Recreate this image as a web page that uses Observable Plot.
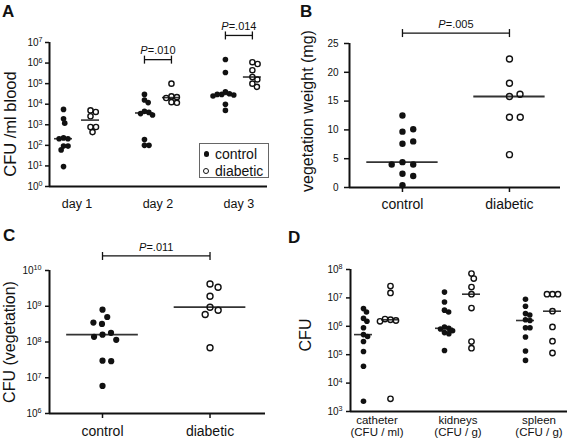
<!DOCTYPE html>
<html><head><meta charset="utf-8">
<script src="https://cdn.jsdelivr.net/npm/d3@7"></script>
<script src="https://cdn.jsdelivr.net/npm/@observablehq/plot@0.6"></script>
<style>
html,body{margin:0;padding:0;background:#fff;}
#root{position:relative;width:567px;height:444px;overflow:hidden;font-family:"Liberation Sans",Arial,Helvetica,sans-serif;color:#111;}
.panel{position:absolute;}
.panel svg{overflow:visible;}
.letter{position:absolute;font-weight:bold;font-size:17px;line-height:17px;}
.ylab{position:absolute;white-space:nowrap;transform:translate(-50%,-50%) rotate(-90deg);line-height:1;}
.abs{position:absolute;}
</style></head><body><div id="root"></div><script>
// ---------------- DATA ----------------
const groups = ["control", "diabetic"];
// Panel A: CFU /ml blood
const daysA = ["day 1", "day 2", "day 3"];
const aControlDay1 = [5600, 1950, 1200, 230, 210, 210, 92, 92, 60, 9.3];
const aDiabeticDay1 = [5000, 4200, 2600, 780, 780, 440];
const aControlDay2 = [30000, 16000, 12000, 4500, 4000, 3500, 3000, 190, 100, 100];
const aDiabeticDay2 = [100000, 24000, 22000, 20000, 12600, 11700];
const aControlDay3 = [1.5e6, 3.5e5, 40000, 32000, 30000, 30000, 28000, 25000, 10000, 5000];
const aDiabeticDay3 = [1.1e6, 9e5, 4.5e5, 2.1e5, 1.6e5, 1e5, 7e4];
const aPvalues = [null, ".010", ".014"];
const aTicks = [1, 1e1, 1e2, 1e3, 1e4, 1e5, 1e6, 1e7];
// Panel B: vegetation weight (mg)
const bControl = [12.5, 9.7, 10.1, 7.6, 8.0, 4.4, 4.0, 4.0, 2.4, 2.0, 0.4];
const bDiabetic = [22.3, 18.1, 15.8, 16.2, 12.2, 12.2, 5.7];
const bPvalue = ".005";
const bTicks = [0, 5, 10, 15, 20, 25];
// Panel C: CFU (vegetation)
const cControl = [8.0e8, 5.0e8, 3.2e8, 3.5e8, 1.6e8, 1.8e8, 1.4e8, 1.15e8, 3.0e7, 2.9e7, 5.9e6];
const cDiabetic = [4.2e9, 3.4e9, 1.9e9, 9.4e8, 7.7e8, 5.9e8, 6.9e7];
const cPvalue = ".011";
const cTicks = [1e6, 1e7, 1e8, 1e9, 1e10];
// Panel D: CFU per organ
const organsD = ["catheter\n(CFU / ml)", "kidneys\n(CFU / g)", "spleen\n(CFU / g)"];
const dControlCatheter = [4.2e6, 3.2e6, 1.9e6, 1.5e6, 8.9e5, 5.1e5, 4.4e5, 2.9e5, 1.3e5, 3.9e4, 2.3e3];
const dDiabeticCatheter = [2.6e7, 1.5e7, 1.7e6, 1.6e6, 1.8e6, 1.5e6, 2.8e3];
const dControlKidneys = [1.6e7, 7.2e6, 3.7e6, 3.2e6, 9.5e5, 8.5e5, 8e5, 7e5, 6e5, 5.5e5, 1.4e5];
const dDiabeticKidneys = [7.2e7, 4.8e7, 2.4e7, 1.35e7, 4.4e6, 2.9e5, 1.7e5];
const dControlSpleen = [9e6, 5.1e6, 2.8e6, 2.5e6, 1.7e6, 1.6e6, 8.9e5, 8.9e5, 4.2e5, 1.35e5, 6.3e4];
const dDiabeticSpleen = [1.35e7, 1.35e7, 1.35e7, 3.4e6, 9.5e5, 3e5, 1.15e5];
const dTicks = [1e3, 1e4, 1e5, 1e6, 1e7, 1e8];

// ---------------- HELPERS ----------------
const INK = "#111";
const FONT = '"Liberation Sans", Arial, Helvetica, sans-serif';
const root = document.getElementById("root");
const expFmt = d => "10^" + Math.round(Math.log10(d));
const vbar = {draw(ctx, size) { const h = Math.sqrt(size / Math.PI); ctx.moveTo(0, -h); ctx.lineTo(0, h); }};

function swarmRows(series, posOf, ys, pxPerUnit, seps) {
  const rows = [];
  for (const s of series) {
    const pos = posOf(s.cat, s.group);
    const sep = seps[s.group];
    const placed = [];
    for (const v of s.values) {
      const py = ys.apply(v);
      const cands = [0];
      for (const p of placed) {
        const dy = py - p.y;
        if (Math.abs(dy) < sep) { const dx = Math.sqrt(sep * sep - dy * dy); cands.push(p.x - dx, p.x + dx); }
      }
      cands.sort((a, b) => Math.abs(a) - Math.abs(b) || b - a);
      let ox = 0;
      for (const c of cands) {
        if (placed.every(p => (c - p.x) ** 2 + (py - p.y) ** 2 >= sep * sep - 1e-6)) { ox = c; break; }
      }
      placed.push({x: ox, y: py});
      rows.push({group: s.group, value: v, x: pos + ox / pxPerUnit});
    }
  }
  return rows;
}

function fixTexts(svg) {
  const NS = "http://www.w3.org/2000/svg";
  svg.querySelectorAll("text").forEach(t => {
    if (t.querySelector("tspan")) return;
    const s = t.textContent;
    const m = s.match(/^10\^(\d+)$/);
    if (m) {
      t.textContent = "10";
      const ts = document.createElementNS(NS, "tspan");
      ts.setAttribute("dy", "-0.45em"); ts.setAttribute("font-size", "0.72em");
      ts.textContent = m[1];
      t.appendChild(ts);
    } else if (s.startsWith("P=")) {
      t.textContent = "";
      const ts = document.createElementNS(NS, "tspan");
      ts.setAttribute("font-style", "italic"); ts.textContent = "P";
      t.appendChild(ts);
      t.appendChild(document.createTextNode(s.slice(1)));
    }
  });
}

function panel(o) {
  const yRange = [o.height - o.mB, o.mT];
  const ys = Plot.scale({y: {type: o.yType, domain: o.yDomain, range: yRange}});
  const pxPerUnit = (o.width - o.mL - o.mR) / (o.xDomain[1] - o.xDomain[0]);
  const rows = swarmRows(o.series, o.posOf, ys, pxPerUnit, o.seps);
  const meds = o.series.map(s => ({pos: o.posOf(s.cat, s.group), m: d3.median(s.values)}));
  const brs = o.brackets.map(b => {
    const vals = o.series.filter(s => s.cat === b.cat).flatMap(s => s.values);
    return {x1: o.posOf(b.cat, "control"), x2: o.posOf(b.cat, "diabetic"), top: d3.max(vals), p: b.p};
  });
  const caps = brs.flatMap(b => [{x: b.x1, top: b.top}, {x: b.x2, top: b.top}]);
  const svg = Plot.plot({
    width: o.width, height: o.height,
    marginLeft: o.mL, marginRight: o.mR, marginTop: o.mT, marginBottom: o.mB,
    style: {fontFamily: FONT, color: INK, background: "transparent", overflow: "visible"},
    x: {domain: o.xDomain},
    y: {type: o.yType, domain: o.yDomain, range: yRange},
    marks: [
      Plot.axisY({ticks: o.yTicks, tickFormat: o.yFmt, tickSize: o.yTickSize, tickPadding: o.yTickPad, fontSize: 10, stroke: INK, strokeWidth: 1.5, label: null}),
      Plot.axisX({ticks: o.xTicks, tickFormat: o.xFmt, tickSize: o.xTickSize, tickPadding: o.xTickPad, fontSize: o.xFont, lineHeight: 1.05, stroke: INK, strokeWidth: 1.5, label: null}),
      Plot.ruleX([o.xDomain[0]], {stroke: INK, strokeWidth: 2}),
      Plot.ruleY([o.yDomain[0]], {stroke: INK, strokeWidth: 2}),
      Plot.ruleY(meds, {x1: d => d.pos - 1 / 3, x2: d => d.pos + 1 / 3, y: "m", stroke: "#333", strokeWidth: o.medWidth}),
      Plot.dot(rows.filter(d => d.group === "control"), {x: "x", y: "value", r: o.rFill, fill: INK}),
      Plot.dot(rows.filter(d => d.group === "diabetic"), {x: "x", y: "value", r: o.rOpen, fill: "none", stroke: INK, strokeWidth: 1.4}),
      Plot.link(brs, {x1: "x1", x2: "x2", y1: "top", y2: "top", dy: o.brDy, stroke: INK, strokeWidth: 1.3}),
      Plot.dot(caps, {x: "x", y: "top", dy: o.brDy, symbol: vbar, r: 4, stroke: INK, strokeWidth: 1.3, fill: "none"}),
      Plot.text(brs, {x: d => (d.x1 + d.x2) / 2, y: "top", dy: o.pDy, text: d => "P=" + d.p, fontSize: 11, fill: INK})
    ]
  });
  fixTexts(svg);
  const div = document.createElement("div");
  div.className = "panel";
  div.style.left = o.left + "px"; div.style.top = o.top + "px";
  div.appendChild(svg);
  root.appendChild(div);
}

function addText(cls, txt, x, y, size) {
  const d = document.createElement("div");
  d.className = cls; d.textContent = txt;
  d.style.left = x + "px"; d.style.top = y + "px";
  if (size) d.style.fontSize = size + "px";
  root.appendChild(d);
}

// ---------------- PANEL A ----------------
const aControl = [aControlDay1, aControlDay2, aControlDay3];
const aDiabetic = [aDiabeticDay1, aDiabeticDay2, aDiabeticDay3];
panel({
  left: 0, top: 0, width: 283, height: 220, mL: 49, mR: 16, mT: 42, mB: 34,
  xDomain: [-0.52, 7.56], yType: "log", yDomain: [1, 1e7], yTicks: aTicks, yFmt: expFmt,
  yTickSize: 4, yTickPad: 3,
  series: daysA.flatMap((d, i) => [{cat: i, group: "control", values: aControl[i]}, {cat: i, group: "diabetic", values: aDiabetic[i]}]),
  posOf: (c, g) => 3 * c + groups.indexOf(g),
  seps: {control: 4.5, diabetic: 5.5}, rFill: 2.8, rOpen: 2.6, medWidth: 1.6,
  xTicks: [0.5, 3.5, 6.5], xFmt: d => daysA[Math.round((d - 0.5) / 3)], xTickSize: 0, xTickPad: 12, xFont: 12.5,
  brackets: aPvalues.map((p, i) => ({cat: i, p})).filter(b => b.p), brDy: -24, pDy: -33
});

// ---------------- PANEL B ----------------
panel({
  left: 283, top: 0, width: 284, height: 220, mL: 66, mR: 7, mT: 43, mB: 33,
  xDomain: [-0.495, 1.477], yType: "linear", yDomain: [0, 25], yTicks: bTicks, yFmt: d => String(d),
  yTickSize: 5, yTickPad: 6,
  series: [{cat: 0, group: "control", values: bControl}, {cat: 0, group: "diabetic", values: bDiabetic}],
  posOf: (c, g) => groups.indexOf(g),
  seps: {control: 11, diabetic: 10.8}, rFill: 3.2, rOpen: 3.0, medWidth: 1.8,
  xTicks: [0, 1], xFmt: d => groups[d], xTickSize: 5, xTickPad: 6, xFont: 14,
  brackets: [{cat: 0, p: bPvalue}], brDy: -26, pDy: -35
});

// ---------------- PANEL C ----------------
panel({
  left: 0, top: 220, width: 283, height: 224, mL: 49, mR: 18, mT: 50, mB: 31,
  xDomain: [-0.493, 1.516], yType: "log", yDomain: [1e6, 1e10], yTicks: cTicks, yFmt: expFmt,
  yTickSize: 4, yTickPad: 4,
  series: [{cat: 0, group: "control", values: cControl}, {cat: 0, group: "diabetic", values: cDiabetic}],
  posOf: (c, g) => groups.indexOf(g),
  seps: {control: 8.7, diabetic: 8.7}, rFill: 3.1, rOpen: 3.0, medWidth: 1.8,
  xTicks: [0, 1], xFmt: d => groups[d], xTickSize: 5, xTickPad: 7, xFont: 14,
  brackets: [{cat: 0, p: cPvalue}], brDy: -28, pDy: -37
});

// ---------------- PANEL D ----------------
const dControl = [dControlCatheter, dControlKidneys, dControlSpleen];
const dDiabetic = [dDiabeticCatheter, dDiabeticKidneys, dDiabeticSpleen];
panel({
  left: 283, top: 220, width: 284, height: 224, mL: 67, mR: 0, mT: 49, mB: 33,
  xDomain: [-0.481, 7.556], yType: "log", yDomain: [1e3, 1e8], yTicks: dTicks, yFmt: expFmt,
  yTickSize: 4, yTickPad: 4,
  series: organsD.flatMap((d, i) => [{cat: i, group: "control", values: dControl[i]}, {cat: i, group: "diabetic", values: dDiabetic[i]}]),
  posOf: (c, g) => 3 * c + groups.indexOf(g),
  seps: {control: 4.5, diabetic: 5.5}, rFill: 2.8, rOpen: 2.7, medWidth: 1.6,
  xTicks: [0.5, 3.5, 6.5], xFmt: d => organsD[Math.round((d - 0.5) / 3)], xTickSize: 0, xTickPad: 4, xFont: 11.5,
  brackets: [], brDy: 0, pDy: 0
});

// ---------------- TEXT OVERLAYS ----------------
addText("letter", "A", 2, 3);
addText("letter", "B", 300, 3);
addText("letter", "C", 3, 227);
addText("letter", "D", 288, 229);
addText("ylab", "CFU /ml blood", 9.5, 124, 16.5);
addText("ylab", "vegetation weight (mg)", 308, 111, 16);
addText("ylab", "CFU (vegetation)", 10, 342, 16);
addText("ylab", "CFU", 305.5, 335, 16);

// legend (panel A)
const box = document.createElement("div");
box.className = "abs";
Object.assign(box.style, {left: "199px", top: "143px", width: "68px", height: "33px", border: "1px solid #666"});
root.appendChild(box);
const legendItems = [{label: groups[0], filled: true, y: 154}, {label: groups[1], filled: false, y: 171}];
for (const it of legendItems) {
  const m = document.createElement("div");
  m.className = "abs";
  if (it.filled) Object.assign(m.style, {left: "203.5px", top: (it.y - 2.8) + "px", width: "5.6px", height: "5.6px", borderRadius: "50%", background: INK});
  else Object.assign(m.style, {left: "203px", top: (it.y - 3.2) + "px", width: "4px", height: "4px", borderRadius: "50%", border: "1.3px solid " + INK});
  root.appendChild(m);
  const t = document.createElement("div");
  t.className = "abs"; t.textContent = it.label;
  Object.assign(t.style, {left: "215px", top: (it.y - 8) + "px", fontSize: "14px", lineHeight: "16px"});
  root.appendChild(t);
}
</script></body></html>
